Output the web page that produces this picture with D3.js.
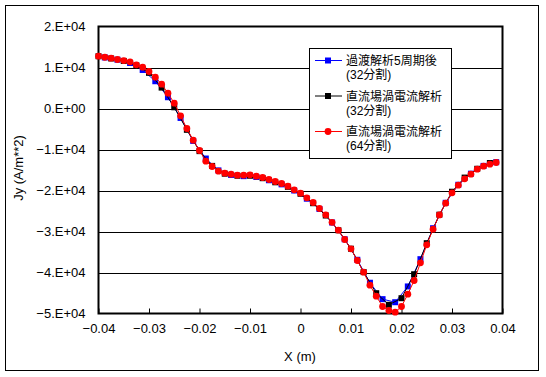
<!DOCTYPE html>
<html>
<head>
<meta charset="utf-8" />
<title>Jy distribution</title>
<script src="https://cdnjs.cloudflare.com/ajax/libs/d3/7.8.5/d3.min.js"></script>
<style>
  body { margin: 0; background: #fff; }
  text { font-family: "Liberation Sans", Arial, sans-serif; fill: #000; }
  .jp { font-family: "Liberation Sans", "Noto Sans CJK JP", sans-serif; }
</style>
</head>
<body>
<svg id="chart" width="546" height="377"></svg>
<script>
// x positions (m)
const xRed = d3.range(64).map(i => -0.04 + i * 0.00125)
const xBlack = d3.range(32).map(i => -0.04 + i * 0.0025)
const xBlue = d3.range(32).map(i => -0.03875 + i * 0.0025)

// 直流場渦電流解析 (64分割)
const jyRed = [12750, 12500, 12270, 11950, 11700, 11390, 10660, 10070, 9020, 7630,
  5930, 3730, 1290, -1780, -4880, -7730, -10240, -12850, -14150, -15290,
  -15780, -16020, -16270, -16270, -16180, -16510, -16830, -17320, -17800, -18290,
  -18950, -19830, -20660, -21780, -22930, -24390, -25930, -27770, -29680, -31950,
  -34230, -37070, -39930, -43100, -45780, -48290, -49270, -49680, -48290, -45290,
  -41950, -37630, -33240, -29440, -25950, -23100, -20560, -18710, -17150, -16020,
  -14800, -14070, -13590, -13170]

// 直流場渦電流解析 (32分割)
const jyBlack = [12750, 12200, 11600, 10500, 8700, 5100, 300, -5200, -10400, -14000,
  -15900, -16400, -16400, -17000, -18000, -19100, -20800, -23100, -26100, -29700,
  -34200, -39900, -45050, -47880, -46270, -40420, -32850, -25900, -20300, -16850,
  -14700, -13300]

// 過渡解析5周期後 (32分割)
const jyBlue = [12450, 11900, 11100, 9400, 6650, 2750, -2300, -7900, -12200, -15100,
  -16200, -16500, -16700, -17500, -18500, -20000, -22000, -24500, -27800, -31900,
  -36900, -42500, -46500, -47250, -43400, -36750, -29200, -23000, -18600, -15900,
  -14000, -13100]

const xTicks = [-0.04, -0.03, -0.02, -0.01, 0, 0.01, 0.02, 0.03, 0.04]
const xTickLabels = ['\u22120.04', '\u22120.03', '\u22120.02', '\u22120.01', '0', '0.01', '0.02', '0.03', '0.04']
const yTicks = [20000, 10000, 0, -10000, -20000, -30000, -40000, -50000]
const yTickLabels = ['2.E+04', '1.E+04', '0.E+00', '\u22121.E+04', '\u22122.E+04', '\u22123.E+04', '\u22124.E+04', '\u22125.E+04']
const legendLabels = [['過渡解析5周期後', '(32分割)'], ['直流場渦電流解析', '(32分割)'], ['直流場渦電流解析', '(64分割)']]
const colors = ['#0000ff', '#000000', '#ff0000']

const svg = d3.select('#chart')
const L = 98.5, R = 502.5, T = 26.5, B = 313.5

let xScale = d3.scaleLinear().domain([-0.04, 0.04]).range([L, R])
let yScale = d3.scaleLinear().domain([-50000, 20000]).range([B, T])

// outer frame
svg.append('rect').attr('x', 5.5).attr('y', 5.5).attr('width', 533).attr('height', 365)
  .style('fill', '#fff').style('stroke', '#000').style('stroke-width', 1)

// grid lines
svg.append('g').selectAll('line').data(yTicks.slice(1, -1)).enter().append('line')
  .attr('x1', L).attr('x2', R)
  .attr('y1', d => Math.round(yScale(d)) + 0.5).attr('y2', d => Math.round(yScale(d)) + 0.5)
  .style('stroke', '#000').style('stroke-width', 1)

// x ticks (inside, upward)
let xAxis = d3.axisBottom(xScale).tickValues(xTicks).tickSize(-5)
  .tickFormat((d, i) => xTickLabels[i]).tickPadding(16)
let gx = svg.append('g').attr('transform', `translate(0,${B})`).call(xAxis)
gx.select('.domain').remove()
gx.selectAll('line').style('stroke', '#000')
gx.selectAll('text').style('font-size', '13px').attr('dy', '0.3em')

let yAxis = d3.axisLeft(yScale).tickValues(yTicks).tickSize(0)
  .tickFormat((d, i) => yTickLabels[i]).tickPadding(13)
let gy = svg.append('g').attr('transform', `translate(${L},0)`).call(yAxis)
gy.select('.domain').remove()
gy.selectAll('text').style('font-size', '13px')

// plot frame
svg.append('rect').attr('x', L).attr('y', T).attr('width', R - L).attr('height', B - T)
  .style('fill', 'none').style('stroke', '#000').style('stroke-width', 2)

// axis titles
svg.append('text').attr('x', 300).attr('y', 356).attr('text-anchor', 'middle')
  .attr('dy', '0.35em').style('font-size', '13px').text('X (m)')
svg.append('text').attr('transform', 'translate(18,168) rotate(-90)').attr('text-anchor', 'middle')
  .attr('dy', '0.35em').style('font-size', '13px').text('Jy (A/m**2)')

// series
const series = [
  { x: xBlue, y: jyBlue, color: colors[0], shape: 'square' },
  { x: xBlack, y: jyBlack, color: colors[1], shape: 'square' },
  { x: xRed, y: jyRed, color: colors[2], shape: 'circle' }
]

series.forEach(s => {
  const pts = s.x.map((x, i) => [x, s.y[i]])
  let line = d3.line().x(d => xScale(d[0])).y(d => yScale(d[1]))
  svg.append('path').attr('d', line(pts))
    .style('fill', 'none').style('stroke', s.color).style('stroke-width', 1)
  if (s.shape === 'square') {
    svg.append('g').selectAll('rect').data(pts).enter().append('rect')
      .attr('x', d => xScale(d[0]) - 3).attr('y', d => yScale(d[1]) - 3)
      .attr('width', 6).attr('height', 6).style('fill', s.color)
  } else {
    svg.append('g').selectAll('circle').data(pts).enter().append('circle')
      .attr('cx', d => xScale(d[0])).attr('cy', d => yScale(d[1]))
      .attr('r', 3.4).style('fill', s.color)
  }
})

// legend
const lg = svg.append('g')
lg.append('rect').attr('x', 309.5).attr('y', 48.5).attr('width', 142).attr('height', 110)
  .style('fill', '#fff').style('stroke', '#000').style('stroke-width', 1)
legendLabels.forEach((lab, i) => {
  const y0 = 60.5 + i * 35.5
  lg.append('line').attr('x1', 315).attr('x2', 342).attr('y1', y0).attr('y2', y0)
    .style('stroke', colors[i]).style('stroke-width', 1)
  if (i < 2) {
    lg.append('rect').attr('x', 325).attr('y', y0 - 3).attr('width', 6).attr('height', 6).style('fill', colors[i])
  } else {
    lg.append('circle').attr('cx', 328).attr('cy', y0).attr('r', 3.4).style('fill', colors[i])
  }
  lg.append('text').attr('class', 'jp').attr('x', 346).attr('y', y0).attr('dy', '0.38em')
    .style('font-size', '12px').text(lab[0])
  lg.append('text').attr('class', 'jp').attr('x', 346).attr('y', y0 + 14).attr('dy', '0.38em')
    .style('font-size', '12px').text(lab[1])
})
</script>
</body>
</html>
